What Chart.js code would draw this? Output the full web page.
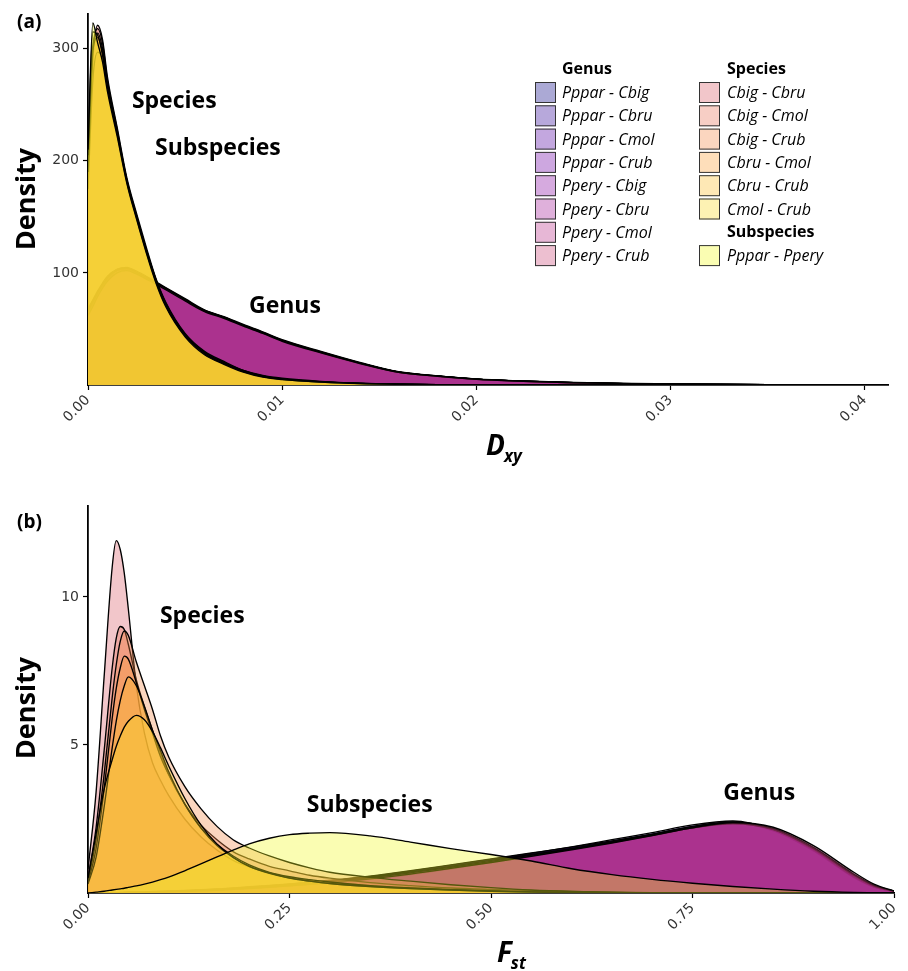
<!DOCTYPE html>
<html>
<head>
<meta charset="utf-8">
<script src="https://cdn.jsdelivr.net/npm/chart.js@4.4.1/dist/chart.umd.min.js"></script>
<style>
  html, body { margin: 0; padding: 0; background: #fff; }
  .panel { position: absolute; left: 0; width: 908px; height: 485px; }
</style>
</head>
<body>
<div class="panel" style="top:0"><canvas id="chartA"></canvas></div>
<div class="panel" style="top:486px"><canvas id="chartB"></canvas></div>
<script>
// pairs, in legend order: 8 genus, 6 species, 1 subspecies
const pairNames = [
  'Pppar - Cbig', 'Pppar - Cbru', 'Pppar - Cmol', 'Pppar - Crub',
  'Ppery - Cbig', 'Ppery - Cbru', 'Ppery - Cmol', 'Ppery - Crub',
  'Cbig - Cbru', 'Cbig - Cmol', 'Cbig - Crub', 'Cbru - Cmol', 'Cbru - Crub', 'Cmol - Crub',
  'Pppar - Ppery'
];
const plasma15 = ['#0D0887', '#320597', '#5302A2', '#6F02A7', '#8A0BA4', '#A21E99', '#B93289', '#CC4778',
                  '#DB5C68', '#E87258', '#F38948', '#FBA139', '#FCBD2C', '#F9DA24', '#F0F921'];

// ---- (a) Dxy densities ----
const dxyX = [0, 0.00025, 0.0005, 0.00075, 0.001, 0.0015, 0.002, 0.0025, 0.003, 0.0035, 0.004, 0.005, 0.006, 0.007,
              0.008, 0.009, 0.010, 0.012, 0.014, 0.016, 0.018, 0.020, 0.022, 0.025, 0.028, 0.031, 0.035, 0.0412];
const dxyTicks = [0, 0.01, 0.02, 0.03, 0.04];
const dxyYTicks = [100, 200, 300];
const dxyGenus = [
  [66, 74, 82, 89, 95, 102.5, 104, 100.5, 96, 91, 86, 76, 66, 60, 53, 46.5, 39.5, 29, 19.5, 11.4, 7.9, 5.2, 3.6, 2.0, 1.2, 0.7, 0.3, 0],
  [64, 72, 81, 88, 94, 101.5, 103, 100, 95.5, 90.5, 85.5, 75.5, 66.5, 60.5, 53.5, 47, 40, 29.5, 19.8, 11.6, 8.0, 5.3, 3.7, 2.1, 1.2, 0.7, 0.3, 0],
  [67, 75, 83, 90, 96, 103, 104.5, 101, 96.5, 91.5, 86.5, 76.5, 66, 59.5, 52.5, 46, 39, 28.5, 19, 11.2, 7.8, 5.1, 3.5, 1.9, 1.1, 0.6, 0.2, 0],
  [63, 71, 80, 87, 93, 100.5, 102.5, 99.5, 95, 90.5, 85.5, 75.5, 66, 60, 53, 46.5, 39.5, 29, 19.5, 11.4, 7.9, 5.2, 3.6, 2.0, 1.2, 0.7, 0.3, 0],
  [68, 76, 84, 91, 97, 103.5, 105, 101.5, 97, 92, 87, 77, 67, 61, 54, 47.5, 40.5, 30, 20.2, 11.8, 8.2, 5.4, 3.8, 2.2, 1.3, 0.8, 0.3, 0],
  [65, 73, 81.5, 88.5, 94.5, 102, 103.5, 100, 95.5, 91, 86, 76, 66.5, 60.5, 53.5, 46.8, 39.8, 29.2, 19.6, 11.5, 8.0, 5.2, 3.6, 2.0, 1.2, 0.7, 0.3, 0],
  [66, 74, 82.5, 89.5, 95.5, 102.5, 104, 100.5, 96, 91.2, 86.2, 76.2, 66.2, 60.2, 53.2, 46.6, 39.6, 29.1, 19.5, 11.4, 7.9, 5.2, 3.6, 2.0, 1.2, 0.7, 0.3, 0],
  [62, 70, 79, 86.5, 92.5, 100, 102, 99, 94.5, 90, 85, 75, 65.5, 59.5, 52.5, 46, 39, 28.6, 19.2, 11.2, 7.8, 5.1, 3.5, 1.9, 1.1, 0.6, 0.2, 0]
];
const dxySpecies = [
  [182, 290, 321, 308, 275, 230, 185, 153, 123, 95, 74, 46, 30, 21, 13, 8, 5.5, 3, 1.5, 0.8, 0.4, 0.2, 0.1, 0, 0, 0, 0, 0],
  [188, 296, 318, 305, 272, 228, 183, 151, 121, 94, 73, 45, 29, 20, 12, 7.5, 5, 2.8, 1.3, 0.7, 0.3, 0.1, 0, 0, 0, 0, 0, 0],
  [175, 272, 297, 290, 265, 225, 182, 150, 120, 93, 72, 45, 29, 20, 13, 8.5, 6, 3.2, 1.6, 0.8, 0.4, 0.2, 0.1, 0, 0, 0, 0, 0],
  [195, 302, 314, 300, 270, 226, 182, 150, 120, 93, 72, 44, 28, 19, 12, 7.5, 5, 2.5, 1.2, 0.6, 0.3, 0.1, 0, 0, 0, 0, 0, 0],
  [190, 298, 310, 296, 268, 226, 183, 151, 121, 94, 73, 45, 29, 20, 12.5, 8, 5.2, 2.7, 1.4, 0.7, 0.3, 0.1, 0, 0, 0, 0, 0, 0],
  [205, 315, 312, 294, 266, 224, 181, 149, 119, 92, 71, 44, 28, 19, 12, 7.5, 5, 2.6, 1.3, 0.6, 0.3, 0.1, 0, 0, 0, 0, 0, 0]
];
const dxySubspecies = [210, 323, 305, 288, 262, 222, 180, 148, 118, 91, 70, 43, 27, 18.5, 11.5, 7, 4.8, 2.5, 1.2, 0.6, 0.3, 0.1, 0, 0, 0, 0, 0, 0];
const dxyNoteText = ['Species', 'Subspecies', 'Genus'];
const dxyNoteX = [0.00226, 0.00345, 0.00829];
const dxyNoteY = [247, 205, 64];

// ---- (b) Fst densities ----
const fstX = [0, 0.01, 0.02, 0.03, 0.035, 0.04, 0.045, 0.05, 0.06, 0.07, 0.08, 0.09, 0.10, 0.12, 0.14, 0.16, 0.18, 0.20,
              0.225, 0.25, 0.275, 0.30, 0.35, 0.40, 0.45, 0.50, 0.55, 0.60, 0.65, 0.70, 0.75, 0.80, 0.85, 0.90, 0.95, 0.975, 1.0];
const fstTicks = [0, 0.25, 0.5, 0.75, 1];
const fstYTicks = [5, 10];
const fstGenus = [
  [0, 0, 0.01, 0.01, 0.01, 0.02, 0.02, 0.02, 0.03, 0.03, 0.04, 0.05, 0.06, 0.08, 0.1, 0.13, 0.16, 0.2, 0.25, 0.3, 0.36, 0.42, 0.56, 0.74, 0.93, 1.13, 1.32, 1.52, 1.74, 1.98, 2.22, 2.36, 2.1, 1.42, 0.52, 0.2, 0.05],
  [0, 0, 0, 0.01, 0.01, 0.01, 0.02, 0.02, 0.02, 0.03, 0.03, 0.04, 0.05, 0.07, 0.09, 0.12, 0.15, 0.18, 0.23, 0.28, 0.34, 0.4, 0.54, 0.72, 0.92, 1.12, 1.34, 1.56, 1.8, 2.04, 2.3, 2.43, 2.12, 1.44, 0.54, 0.21, 0.05],
  [0, 0, 0.01, 0.01, 0.01, 0.02, 0.02, 0.03, 0.03, 0.04, 0.05, 0.06, 0.07, 0.09, 0.11, 0.14, 0.17, 0.21, 0.26, 0.31, 0.37, 0.43, 0.57, 0.75, 0.95, 1.15, 1.35, 1.55, 1.76, 1.99, 2.24, 2.38, 2.14, 1.47, 0.56, 0.22, 0.05],
  [0, 0, 0, 0, 0.01, 0.01, 0.01, 0.01, 0.02, 0.02, 0.03, 0.03, 0.04, 0.05, 0.07, 0.09, 0.11, 0.14, 0.18, 0.22, 0.27, 0.33, 0.46, 0.62, 0.82, 1.03, 1.25, 1.48, 1.72, 1.98, 2.25, 2.4, 2.15, 1.46, 0.55, 0.21, 0.05],
  [0, 0, 0, 0.01, 0.01, 0.01, 0.01, 0.02, 0.02, 0.03, 0.03, 0.04, 0.04, 0.06, 0.08, 0.1, 0.13, 0.16, 0.21, 0.26, 0.31, 0.37, 0.5, 0.66, 0.85, 1.05, 1.26, 1.48, 1.7, 1.94, 2.2, 2.36, 2.16, 1.5, 0.6, 0.24, 0.06],
  [0, 0, 0.01, 0.01, 0.01, 0.01, 0.02, 0.02, 0.03, 0.03, 0.04, 0.04, 0.05, 0.07, 0.09, 0.12, 0.15, 0.19, 0.24, 0.29, 0.35, 0.41, 0.55, 0.71, 0.9, 1.1, 1.3, 1.5, 1.72, 1.96, 2.2, 2.34, 2.14, 1.5, 0.6, 0.24, 0.06],
  [0, 0, 0, 0.01, 0.01, 0.01, 0.02, 0.02, 0.02, 0.03, 0.03, 0.04, 0.05, 0.06, 0.08, 0.11, 0.14, 0.17, 0.22, 0.27, 0.33, 0.39, 0.52, 0.68, 0.87, 1.07, 1.28, 1.49, 1.71, 1.95, 2.2, 2.36, 2.18, 1.54, 0.64, 0.27, 0.06],
  [0, 0, 0, 0.01, 0.01, 0.01, 0.01, 0.02, 0.02, 0.02, 0.03, 0.03, 0.04, 0.05, 0.07, 0.09, 0.12, 0.15, 0.19, 0.24, 0.29, 0.35, 0.48, 0.64, 0.83, 1.03, 1.24, 1.46, 1.69, 1.94, 2.2, 2.38, 2.22, 1.6, 0.7, 0.3, 0.07]
];
const fstSpecies = [
  [0.8, 3.4, 7.3, 11.0, 11.9, 11.6, 10.8, 9.6, 7.0, 5.4, 4.4, 3.8, 3.3, 2.5, 1.9, 1.45, 1.1, 0.88, 0.68, 0.53, 0.43, 0.36, 0.25, 0.18, 0.12, 0.08, 0.05, 0.03, 0.02, 0.01, 0, 0, 0, 0, 0, 0, 0],
  [0.5, 2.2, 4.8, 7.6, 8.6, 9.0, 8.9, 8.4, 7.2, 6.3, 5.5, 4.7, 4.0, 3.0, 2.3, 1.8, 1.4, 1.15, 0.9, 0.75, 0.6, 0.5, 0.35, 0.25, 0.17, 0.12, 0.08, 0.05, 0.03, 0.01, 0, 0, 0, 0, 0, 0, 0],
  [0.4, 1.8, 4.0, 6.6, 7.7, 8.5, 8.85, 8.7, 7.8, 7.0, 6.2, 5.3, 4.6, 3.6, 2.85, 2.25, 1.8, 1.52, 1.25, 1.03, 0.85, 0.7, 0.53, 0.4, 0.28, 0.18, 0.1, 0.05, 0.02, 0.01, 0, 0, 0, 0, 0, 0, 0],
  [0.35, 1.5, 3.5, 5.9, 6.9, 7.6, 8.0, 7.9, 7.1, 6.2, 5.4, 4.6, 4.0, 3.0, 2.2, 1.65, 1.25, 0.95, 0.7, 0.55, 0.45, 0.37, 0.25, 0.17, 0.11, 0.07, 0.04, 0.02, 0.01, 0, 0, 0, 0, 0, 0, 0, 0],
  [0.3, 1.2, 2.9, 4.9, 5.8, 6.5, 7.0, 7.3, 7.0, 6.3, 5.5, 4.8, 4.1, 3.0, 2.2, 1.6, 1.2, 0.9, 0.68, 0.5, 0.4, 0.32, 0.22, 0.15, 0.1, 0.06, 0.03, 0.01, 0, 0, 0, 0, 0, 0, 0, 0, 0],
  [0.5, 2.0, 3.5, 4.5, 4.95, 5.3, 5.6, 5.8, 6.0, 5.85, 5.45, 4.9, 4.3, 3.2, 2.3, 1.65, 1.2, 0.9, 0.66, 0.5, 0.4, 0.32, 0.22, 0.15, 0.1, 0.06, 0.03, 0.01, 0, 0, 0, 0, 0, 0, 0, 0, 0]
];
const fstSubspecies = [0, 0.03, 0.06, 0.1, 0.12, 0.14, 0.16, 0.19, 0.24, 0.3, 0.37, 0.45, 0.54, 0.75, 0.98, 1.22, 1.45, 1.66, 1.85, 1.97, 2.02, 2.04, 1.93, 1.72, 1.5, 1.3, 1.08, 0.82, 0.62, 0.46, 0.33, 0.22, 0.13, 0.06, 0.02, 0.01, 0];
const fstNoteText = ['Species', 'Subspecies', 'Genus'];
const fstNoteX = [0.0892, 0.2714, 0.788];
const fstNoteY = [9.12, 2.74, 3.14];

Chart.defaults.font.family = 'DejaVu Sans';
Chart.defaults.color = '#333';

function fillColor(i) {
  const h = plasma15[i];
  const r = parseInt(h.slice(1, 3), 16), g = parseInt(h.slice(3, 5), 16), b = parseInt(h.slice(5, 7), 16);
  return `rgba(${r},${g},${b},0.35)`;
}

function drawLegend(ctx) {
  const rowY = r => 92.5 + r * 23.3;
  const key = (x, r, i) => {
    ctx.fillStyle = '#fff';
    ctx.fillRect(x, rowY(r) - 10.5, 21, 21);
    ctx.fillStyle = fillColor(i);
    ctx.fillRect(x, rowY(r) - 10.5, 21, 21);
    ctx.strokeStyle = '#333';
    ctx.lineWidth = 1;
    ctx.strokeRect(x + 0.5, rowY(r) - 10, 20, 20);
  };
  ctx.textAlign = 'left';
  ctx.textBaseline = 'middle';
  ctx.fillStyle = '#000';
  ctx.font = 'bold 16px "Open Sans"';
  ctx.fillText('Genus', 562, rowY(-1));
  ctx.fillText('Species', 727, rowY(-1));
  ctx.fillText('Subspecies', 727, rowY(6));
  for (let i = 0; i < 15; i++) {
    let x, tx, r;
    if (i < 8) { x = 535; tx = 562; r = i; }
    else if (i < 14) { x = 699; tx = 727; r = i - 8; }
    else { x = 699; tx = 727; r = 7; }
    key(x, r, i);
    ctx.fillStyle = '#000';
    ctx.font = 'italic 16px "Open Sans"';
    ctx.fillText(pairNames[i], tx, rowY(r) + 1);
  }
}

const decorPlugin = {
  id: 'decor',
  afterDraw(chart, args, o) {
    const ctx = chart.ctx, xs = chart.scales.x, ys = chart.scales.y;
    ctx.save();
    ctx.fillStyle = '#000';
    ctx.textAlign = 'left';
    ctx.textBaseline = 'alphabetic';
    ctx.font = 'bold 19px "Open Sans"';
    ctx.fillText(o.tag, 17, o.tagY);

    ctx.save();
    ctx.translate(27, o.yTitleY);
    ctx.rotate(-Math.PI / 2);
    ctx.textAlign = 'center';
    ctx.textBaseline = 'middle';
    ctx.font = 'bold 27px "Open Sans"';
    ctx.fillText('Density', 0, 0);
    ctx.restore();

    ctx.font = 'italic bold 28px "Open Sans"';
    ctx.fillText(o.xMain, o.xTitleX, o.xTitleY);
    const w = ctx.measureText(o.xMain).width;
    ctx.font = 'italic bold 17px "Open Sans"';
    ctx.fillText(o.xSub, o.xTitleX + w - 1, o.xTitleY + 7);

    ctx.font = 'bold 23px "Open Sans"';
    o.noteText.forEach((t, i) => {
      ctx.fillText(t, xs.getPixelForValue(o.noteX[i]), ys.getPixelForValue(o.noteY[i]));
    });
    if (o.legend) drawLegend(ctx);
    ctx.restore();
  }
};

function makeChart(id, xVals, series, p) {
  const datasets = series.map((vals, i) => ({
    label: pairNames[i],
    data: xVals.map((x, j) => ({ x: x, y: vals[j] })),
    backgroundColor: fillColor(i),
    borderColor: '#000',
    borderWidth: 1.35,
    fill: 'origin',
    pointRadius: 0,
    cubicInterpolationMode: 'monotone',
    order: -i
  }));
  const axisGrid = { display: true, drawOnChartArea: false, drawTicks: true, tickLength: 5, tickColor: '#000', tickWidth: 1.2 };
  return new Chart(document.getElementById(id), {
    type: 'line',
    data: { datasets: datasets },
    options: {
      responsive: true,
      maintainAspectRatio: false,
      animation: false,
      layout: { padding: p.padding },
      scales: {
        x: {
          type: 'linear',
          min: 0,
          max: p.xMax,
          afterBuildTicks: s => { s.ticks = p.xTicks.map(v => ({ value: v })); },
          afterFit: s => { s.height = p.xAxisHeight; },
          ticks: { callback: v => v.toFixed(2), minRotation: 45, maxRotation: 45, font: { size: 14 }, color: '#333', padding: 2 },
          grid: axisGrid,
          border: { display: true, color: '#000', width: 1.8 }
        },
        y: {
          min: 0,
          max: p.yMax,
          afterBuildTicks: s => { s.ticks = p.yTicks.map(v => ({ value: v })); },
          afterFit: s => { s.width = 88; },
          ticks: { font: { size: 14 }, color: '#333', padding: 4 },
          grid: axisGrid,
          border: { display: true, color: '#000', width: 1.8 }
        }
      },
      plugins: {
        legend: { display: false },
        tooltip: { enabled: false },
        decor: p.decor
      }
    },
    plugins: [decorPlugin]
  });
}

makeChart('chartA', dxyX, dxyGenus.concat(dxySpecies, [dxySubspecies]), {
  padding: { top: 14, right: 20, left: 0, bottom: 0 },
  xMax: 0.0412, yMax: 331, xTicks: dxyTicks, yTicks: dxyYTicks, xAxisHeight: 100,
  decor: { tag: '(a)', tagY: 28, yTitleY: 199, xMain: 'D', xSub: 'xy', xTitleX: 486, xTitleY: 455,
           noteText: dxyNoteText, noteX: dxyNoteX, noteY: dxyNoteY, legend: true }
});

makeChart('chartB', fstX, fstGenus.concat(fstSpecies, [fstSubspecies]), {
  padding: { top: 20, right: 13, left: 0, bottom: 0 },
  xMax: 1, yMax: 13.07, xTicks: fstTicks, yTicks: fstYTicks, xAxisHeight: 78,
  decor: { tag: '(b)', tagY: 42, yTitleY: 222, xMain: 'F', xSub: 'st', xTitleX: 497, xTitleY: 476,
           noteText: fstNoteText, noteX: fstNoteX, noteY: fstNoteY, legend: false }
});
</script>
</body>
</html>
